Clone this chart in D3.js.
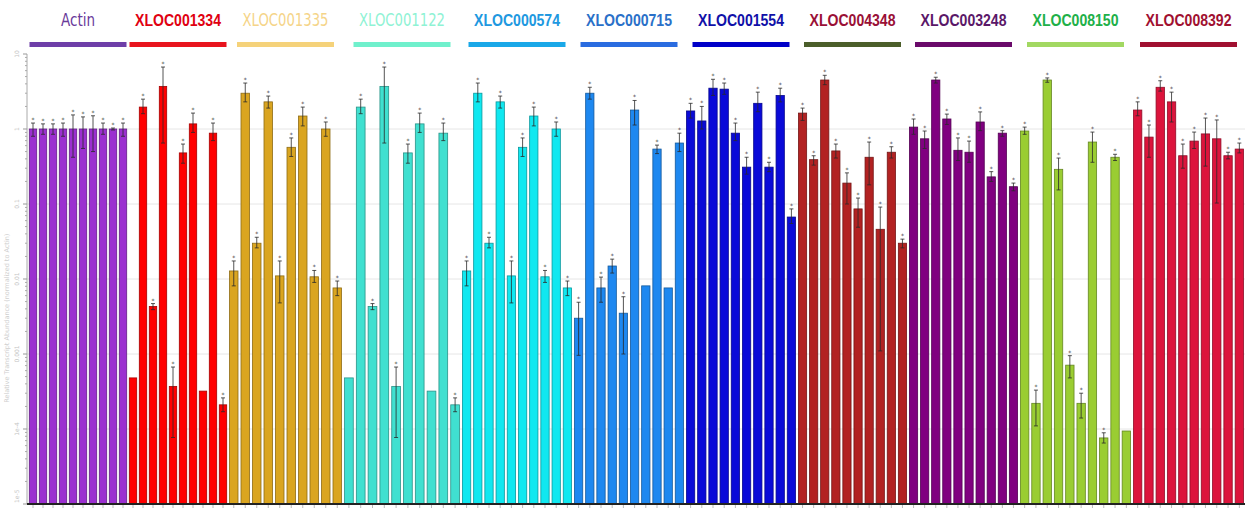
<!DOCTYPE html>
<html>
<head>
<meta charset="utf-8">
<script src="https://cdn.jsdelivr.net/npm/d3@7/dist/d3.min.js"></script>
<style>
  html, body { margin: 0; padding: 0; background: #fff; }
  svg { display: block; }
</style>
</head>
<body>
<svg id="chart" width="1248" height="509"></svg>
<script>
// Gene groups, each measured in 10 samples
const genes = ["Actin", "XLOC001334", "XLOC001335", "XLOC001122", "XLOC000574",
  "XLOC000715", "XLOC001554", "XLOC004348", "XLOC003248", "XLOC008150", "XLOC008392"];

// Mean relative abundance per sample
const means = [
  [1, 1, 1, 1, 1, 1, 1, 1, 1, 1],
  [4.8e-4, 1.96, 0.0043, 3.7, 3.7e-4, 0.48, 1.17, 3.2e-4, 0.88, 2.1e-4],
  [0.0128, 3.0, 0.030, 2.3, 0.011, 0.57, 1.49, 0.0107, 1.0, 0.0076],
  [4.8e-4, 1.96, 0.0043, 3.7, 3.7e-4, 0.48, 1.17, 3.2e-4, 0.88, 2.1e-4],
  [0.0128, 3.0, 0.030, 2.3, 0.011, 0.57, 1.49, 0.0107, 1.0, 0.0076],
  [0.0030, 3.0, 0.0076, 0.0149, 0.0035, 1.79, 0.0081, 0.54, 0.0076, 0.65],
  [1.74, 1.28, 3.5, 3.4, 0.88, 0.31, 2.2, 0.31, 2.8, 0.067],
  [1.63, 0.39, 4.5, 0.51, 0.19, 0.086, 0.42, 0.046, 0.49, 0.030],
  [1.06, 0.74, 4.5, 1.36, 0.52, 0.49, 1.24, 0.23, 0.88, 0.17],
  [0.94, 2.2e-4, 4.5, 0.29, 7.1e-4, 2.2e-4, 0.67, 7.6e-5, 0.42, 9.4e-5],
  [1.79, 0.78, 3.6, 2.3, 0.44, 0.69, 0.86, 0.74, 0.44, 0.54]
];

// Upper end of each error bar (null = no error bar)
const upper = [
  [1.2, 1.17, 1.17, 1.2, 1.54, 1.45, 1.5, 1.2, 1.03, 1.2],
  [null, 2.5, 0.0047, 6.7, 6.7e-4, 0.63, 1.63, null, 1.2, 2.6e-4],
  [0.0174, 4.1, 0.036, 2.75, 0.0174, 0.76, 1.96, 0.013, 1.24, 0.0094],
  [null, 2.5, 0.0047, 6.7, 6.7e-4, 0.63, 1.63, null, 1.2, 2.6e-4],
  [0.0174, 4.1, 0.036, 2.75, 0.0174, 0.76, 1.96, 0.013, 1.24, 0.0094],
  [0.0049, 3.6, 0.0106, 0.0184, 0.0058, 2.4, null, 0.61, null, 0.88],
  [2.2, 2.0, 4.6, 4.1, 1.2, 0.42, 3.1, 0.36, 3.5, 0.086],
  [1.9, 0.44, 5.2, 0.63, 0.26, 0.12, 0.67, 0.091, 0.58, 0.034],
  [1.36, 0.94, 4.9, 1.58, 0.76, 0.69, 1.69, 0.27, 0.95, 0.19],
  [1.06, 3.3e-4, 4.8, 0.41, 9.5e-4, 3.0e-4, 0.91, 8.9e-5, 0.46, null],
  [2.3, 1.13, 4.4, 3.1, 0.63, 0.91, 1.4, 1.32, 0.49, 0.65]
];

// Lower end of each error bar
const lower = [
  [0.8, 0.85, 0.85, 0.8, 0.42, 0.55, 0.5, 0.85, 0.97, 0.8],
  [null, 1.6, 0.0039, 0.65, 7.7e-5, 0.35, 0.9, null, 0.7, 1.7e-4],
  [0.0081, 2.3, 0.026, 1.9, 0.0048, 0.43, 1.1, 0.009, 0.8, 0.006],
  [null, 1.6, 0.0039, 0.65, 7.7e-5, 0.35, 0.9, null, 0.7, 1.7e-4],
  [0.0081, 2.3, 0.026, 1.9, 0.0048, 0.43, 1.1, 0.009, 0.8, 0.006],
  [9.6e-4, 2.5, 0.0049, 0.012, 0.001, 1.13, null, 0.47, null, 0.5],
  [1.4, 1.0, 2.8, 2.9, 0.7, 0.25, 1.7, 0.27, 2.3, 0.055],
  [1.3, 0.33, 3.9, 0.41, 0.10, 0.049, 0.18, 0.0011, 0.41, 0.026],
  [0.85, 0.55, 4.1, 1.15, 0.38, 0.36, 0.95, 0.2, 0.8, 0.15],
  [0.85, 1.1e-4, 4.2, 0.154, 4.8e-4, 1.4e-4, 0.36, 6.5e-5, 0.38, null],
  [1.5, 0.42, 3.2, 1.24, 0.30, 0.55, 0.32, 0.103, 0.4, 0.48]
];

const barColors = ["#9b30d0", "#ff0000", "#daa520", "#40e0d0", "#10e8f0",
  "#1e88f0", "#0a0ad8", "#b22222", "#800080", "#9acd32", "#dc143c"];
const labelColors = ["#6a3a9a", "#e00010", "#f5d488", "#8ff2d4", "#2098e0",
  "#2a70c8", "#1010a8", "#9a1036", "#5a1868", "#20b048", "#a01030"];
const lineColors = ["#6e3ea8", "#e8141e", "#f5d27a", "#70f0cc", "#1aa8e8",
  "#2a6ce0", "#0000c8", "#4b5e2a", "#6a0a6a", "#a2d862", "#a01030"];
const labelBold = [false, true, false, false, true, true, true, true, true, true, true];

const yTicks = [10, 1, 0.1, 0.01, 0.001, 1e-4, 1e-5];
const yTickText = ["10", "1", "0.1", "0.01", "0.001", "1e-4", "1e-5"];
const yTitle = "Relative Transcript Abundance (normalized to Actin)";

const perGroup = 10;
const svg = d3.select("#chart");

// Bar index -> x; groups are packed with slightly different pitches
const groupEdges = [28, 128, 228, 343, 461, 573, 685, 797, 908, 1019, 1132, 1245];
const x = d3.scaleLinear()
  .domain(groupEdges.map((_, i) => i * perGroup))
  .range(groupEdges);

const y = d3.scaleLog().domain([1e-5, 10]).range([504, 54]);
const x0 = 27, x1 = 1245;

// Gridlines at each decade
svg.append("g").selectAll("line")
  .data(yTicks.slice(1, -1))
  .join("line")
  .attr("x1", x0).attr("x2", x1)
  .attr("y1", d => y(d)).attr("y2", d => y(d))
  .attr("stroke", "#e6e6e6").attr("stroke-width", 1);

// Y axis with log minor ticks
const yAxis = svg.append("g").attr("transform", `translate(${x0},0)`);
yAxis.append("line").attr("y1", y(10)).attr("y2", y(1e-5)).attr("stroke", "#aaa");
const minor = [];
for (let e = -5; e < 1; e++) for (let m = 2; m <= 9; m++) minor.push(m * Math.pow(10, e));
yAxis.selectAll(".minor").data(minor).join("line")
  .attr("x1", -2).attr("x2", 0)
  .attr("y1", d => y(d)).attr("y2", d => y(d))
  .attr("stroke", "#aaa");
yAxis.selectAll(".major").data(yTicks).join("line")
  .attr("x1", -4).attr("x2", 0)
  .attr("y1", d => y(d)).attr("y2", d => y(d))
  .attr("stroke", "#999");
// The bottom label is pushed upward so it stays inside the frame
yAxis.selectAll("text").data(yTicks).join("text")
  .attr("transform", d => `translate(-8,${d === 1e-5 ? y(d) - 1 : y(d)}) rotate(-90)`)
  .attr("text-anchor", d => d === 1e-5 ? "start" : "middle")
  .attr("font-family", "DejaVu Sans, sans-serif")
  .attr("font-size", 6)
  .attr("fill", "#c4c4c4")
  .text((d, i) => yTickText[i]);

svg.append("text")
  .attr("transform", `translate(9,${y(0.003)}) rotate(-90)`)
  .attr("text-anchor", "middle")
  .attr("font-family", "DejaVu Sans, sans-serif")
  .attr("font-size", 6.5)
  .attr("fill", "#cfcfcf")
  .text(yTitle);

// Flatten into one record per bar
const bars = [];
genes.forEach((g, gi) => {
  means[gi].forEach((v, j) => {
    bars.push({ gi, idx: gi * perGroup + j, v, hi: upper[gi][j], lo: lower[gi][j] });
  });
});

const gBars = svg.append("g");
gBars.selectAll("rect").data(bars).join("rect")
  .attr("x", d => x(d.idx + 0.13))
  .attr("width", d => x(d.idx + 0.87) - x(d.idx + 0.13))
  .attr("y", d => y(d.v))
  .attr("height", d => y(1e-5) - y(d.v))
  .attr("fill", d => barColors[d.gi])
  .attr("stroke", d => d3.color(barColors[d.gi]).darker(1.2))
  .attr("stroke-width", 0.8);

// Error bars
const withErr = bars.filter(d => d.hi != null);
const cx = d => x(d.idx + 0.5);
const gErr = svg.append("g").attr("stroke", "#2a2a2a").attr("stroke-width", 0.8);
gErr.selectAll(".stem").data(withErr).join("line")
  .attr("x1", cx).attr("x2", cx)
  .attr("y1", d => y(d.lo)).attr("y2", d => y(d.hi));
gErr.selectAll(".capHi").data(withErr).join("line")
  .attr("x1", d => cx(d) - 2).attr("x2", d => cx(d) + 2)
  .attr("y1", d => y(d.hi)).attr("y2", d => y(d.hi));
gErr.selectAll(".capLo").data(withErr).join("line")
  .attr("x1", d => cx(d) - 2).attr("x2", d => cx(d) + 2)
  .attr("y1", d => y(d.lo)).attr("y2", d => y(d.lo));

// Significance marks above error bars
svg.append("g").selectAll("text").data(withErr).join("text")
  .attr("x", cx)
  .attr("y", d => y(d.hi) - 1)
  .attr("text-anchor", "middle")
  .attr("font-family", "DejaVu Sans, sans-serif")
  .attr("font-size", 6)
  .attr("fill", "#333")
  .text("*");

// X axis baseline and sample ticks
svg.append("line")
  .attr("x1", x0).attr("x2", x1)
  .attr("y1", y(1e-5)).attr("y2", y(1e-5))
  .attr("stroke", "#222").attr("stroke-width", 2);
svg.append("g").selectAll("line").data(bars).join("line")
  .attr("x1", cx).attr("x2", cx)
  .attr("y1", y(1e-5) + 1).attr("y2", y(1e-5) + 4)
  .attr("stroke", "#aaa").attr("stroke-width", 0.8);

// Group headers: gene name and coloured underline
const hdr = svg.append("g").selectAll("g").data(genes).join("g")
  .attr("transform", (d, i) => `translate(${x(i * perGroup + perGroup / 2)},0)`);
hdr.append("rect")
  .attr("x", -48.5).attr("width", 97)
  .attr("y", 42).attr("height", 5)
  .attr("fill", (d, i) => lineColors[i]);
hdr.append("text")
  .attr("y", 26)
  .attr("text-anchor", "middle")
  .attr("font-family", (d, i) => labelBold[i] ? "'Liberation Sans Narrow', 'Arial Narrow', 'Liberation Sans', sans-serif" : "'DejaVu Sans', sans-serif")
  .attr("font-weight", (d, i) => labelBold[i] ? "bold" : "normal")
  .attr("font-size", 17)
  .attr("textLength", (d, i) => i === 0 ? 34 : 86)
  .attr("lengthAdjust", "spacingAndGlyphs")
  .attr("fill", (d, i) => labelColors[i])
  .text(d => d);
</script>
</body>
</html>
